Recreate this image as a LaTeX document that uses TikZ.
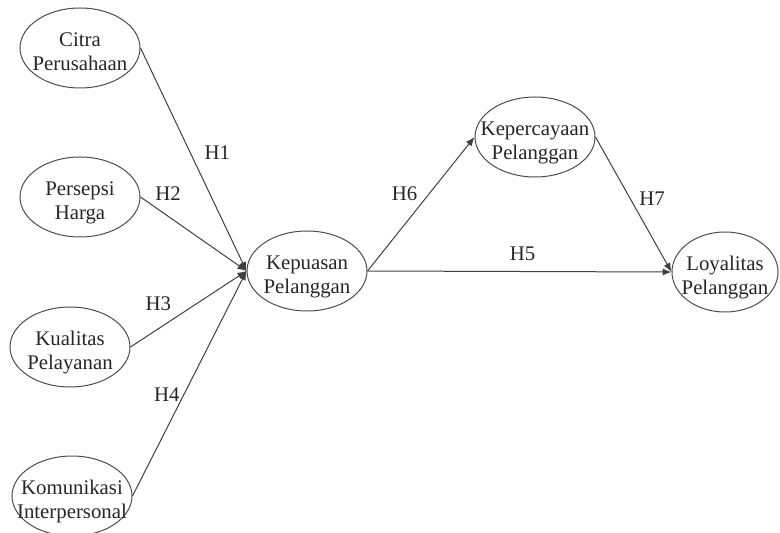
\documentclass[tikz,border=0pt]{standalone}
\usepackage{fontspec}
\setmainfont{Liberation Serif}
\usetikzlibrary{arrows.meta,shapes.geometric}
\newcommand{\twolines}[2]{\makebox[0pt]{\raisebox{-3pt}[\height][\depth]{\begin{tabular}{@{}c@{}}#1\\#2\end{tabular}}}}

\begin{document}
\begin{tikzpicture}[x=.5pt,y=-.5pt,font=\fontsize{10.4}{11.7}\selectfont,>={Latex[length=4.5pt,width=3.6pt]},
    var/.style={ellipse,draw=black!70,line width=.5pt,minimum width=60pt,minimum height=40pt,inner sep=0pt,text=black!85},
    link/.style={->,draw=black!75,line width=.5pt},
    hyp/.style={text=black!85,inner sep=0pt}]
    \useasboundingbox (0,0) rectangle (780,533);
    % variables
    \node[var] (citra) at (80,48) {\twolines{Citra}{Perusahaan}};
    \node[var] (harga) at (80,197) {\twolines{Persepsi}{Harga}};
    \node[var] (kual) at (70,347) {\twolines{Kualitas}{Pelayanan}};
    \node[var] (komu) at (72,496) {\twolines{Komunikasi}{Interpersonal}};
    \node[var] (puas) at (307,271) {\twolines{Kepuasan}{Pelanggan}};
    \node[var] (percaya) at (535,137) {\twolines{Kepercayaan}{Pelanggan}};
    \node[var,minimum width=53pt] (loyal) at (725,272) {\twolines{Loyalitas}{Pelanggan}};
    % hypotheses
    \draw[link] (citra.east) -- (puas.west) node[hyp,pos=.47,xshift=13.5pt] {H1};
    \draw[link] (harga.east) -- (puas.west) node[hyp,pos=.26,yshift=11.5pt] {H2};
    \draw[link] (kual.east) -- (puas.west) node[hyp,pos=.24,yshift=12.5pt] {H3};
    \draw[link] (komu.east) -- (puas.west) node[hyp,pos=.45,xshift=-8.5pt] {H4};
    \draw[link] (puas.east) -- (loyal.west) node[hyp,pos=.51,yshift=9pt] {H5};
    \draw[link] (puas.east) -- (percaya.west) node[hyp,pos=.58,xshift=-12.5pt] {H6};
    \draw[link] (percaya.east) -- (loyal.west) node[hyp,pos=.455,xshift=11pt] {H7};
\end{tikzpicture}
\end{document}
